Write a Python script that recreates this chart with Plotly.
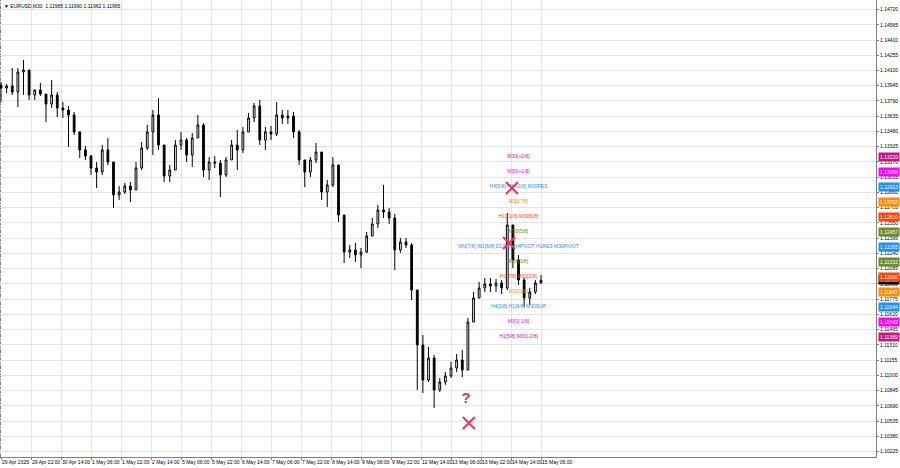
import plotly.graph_objects as go

# ---------------- data ----------------
SYMBOL = "EURUSD,M30"
QUOTE = "1.11965 1.11990 1.11962 1.11965"

first_open = 1.13952
highs = [1.13983, 1.13963, 1.14125, 1.14125, 1.14207, 1.14105, 1.13902, 1.13973, 1.13861, 1.14003,
         1.13881, 1.13780, 1.13739, 1.13678, 1.13475, 1.13332, 1.13241, 1.13169, 1.13342, 1.13414,
         1.13169, 1.12925, 1.12956, 1.12966, 1.13169, 1.13373, 1.13546, 1.13698, 1.13820, 1.13342,
         1.13139, 1.13393, 1.13475, 1.13414, 1.13464, 1.13647, 1.13566, 1.13220, 1.13230, 1.13190,
         1.13220, 1.13393, 1.13495, 1.13525, 1.13668, 1.13770, 1.13800, 1.13525, 1.13536, 1.13780,
         1.13698, 1.13698, 1.13678, 1.13495, 1.13190, 1.13220, 1.13363, 1.13271, 1.12986, 1.13220,
         1.13139, 1.12630, 1.12325, 1.12346, 1.12295, 1.12458, 1.12600, 1.12732, 1.12936, 1.12702,
         1.12641, 1.12397, 1.12397, 1.12346, 1.11868, 1.11410, 1.11288, 1.11207, 1.10973, 1.11034,
         1.11136, 1.11217, 1.11258, 1.11583, 1.11847, 1.11949, 1.11990, 1.11990, 1.11980, 1.11969,
         1.12651, 1.12529, 1.12224, 1.11990, 1.11888, 1.11969, 1.12020]
lows = [1.13780, 1.13871, 1.13851, 1.13729, 1.13851, 1.13800, 1.13800, 1.13841, 1.13576, 1.13719,
        1.13627, 1.13617, 1.13322, 1.13444, 1.13210, 1.13190, 1.13037, 1.12905, 1.13037, 1.13139,
        1.12702, 1.12783, 1.12844, 1.12763, 1.12885, 1.13088, 1.13292, 1.13241, 1.13292, 1.12966,
        1.12966, 1.13088, 1.13292, 1.13169, 1.13119, 1.13414, 1.13017, 1.12986, 1.13108, 1.12814,
        1.13017, 1.13190, 1.13088, 1.13261, 1.13475, 1.13576, 1.13342, 1.13292, 1.13393, 1.13434,
        1.13556, 1.13556, 1.13414, 1.13139, 1.12915, 1.13017, 1.13159, 1.12783, 1.12712, 1.12915,
        1.12559, 1.12142, 1.12193, 1.12152, 1.12091, 1.12244, 1.12417, 1.12498, 1.12600, 1.12539,
        1.12071, 1.12244, 1.12295, 1.11766, 1.10851, 1.10820, 1.10932, 1.10668, 1.10830, 1.10902,
        1.10973, 1.11034, 1.10983, 1.11054, 1.11542, 1.11786, 1.11847, 1.11847, 1.11847, 1.11827,
        1.11868, 1.12091, 1.11919, 1.11695, 1.11715, 1.11827, 1.11929]
closes = [1.13922, 1.13942, 1.13881, 1.14085, 1.14105, 1.13851, 1.13902, 1.13861, 1.13759, 1.13851,
          1.13719, 1.13698, 1.13647, 1.13475, 1.13292, 1.13230, 1.13108, 1.13068, 1.13292, 1.13169,
          1.12834, 1.12864, 1.12925, 1.12885, 1.13108, 1.13312, 1.13475, 1.13647, 1.13342, 1.13027,
          1.13088, 1.13342, 1.13393, 1.13241, 1.13414, 1.13546, 1.13088, 1.13169, 1.13159, 1.13037,
          1.13190, 1.13342, 1.13292, 1.13475, 1.13617, 1.13739, 1.13393, 1.13475, 1.13454, 1.13647,
          1.13617, 1.13637, 1.13475, 1.13190, 1.13068, 1.13190, 1.13271, 1.12864, 1.12936, 1.13139,
          1.12630, 1.12254, 1.12275, 1.12224, 1.12254, 1.12417, 1.12539, 1.12681, 1.12661, 1.12600,
          1.12275, 1.12356, 1.12325, 1.11868, 1.11308, 1.10952, 1.11176, 1.10851, 1.10932, 1.10993,
          1.11074, 1.11156, 1.11054, 1.11542, 1.11786, 1.11888, 1.11929, 1.11908, 1.11939, 1.11888,
          1.12529, 1.12173, 1.11969, 1.11786, 1.11847, 1.11939, 1.11965]
BARS_PER_CANDLE = 6          # M30 bars grouped per drawn candle
current_price = 1.11965

x_tick_labels = ["29 Apr 2025", "29 Apr 22:00", "30 Apr 14:00", "1 May 06:00", "1 May 22:00",
                 "2 May 14:00", "5 May 06:00", "5 May 22:00", "6 May 14:00", "7 May 06:00",
                 "7 May 22:00", "8 May 14:00", "9 May 06:00", "9 May 22:00", "12 May 14:00",
                 "13 May 06:00", "13 May 22:00", "14 May 14:00", "15 May 06:00"]
BARS_PER_X_LABEL = 32

y_tick_labels = ["1.14720", "1.14565", "1.14410", "1.14255", "1.14100", "1.13945", "1.13790",
                 "1.13635", "1.13480", "1.13325", "1.13170", "1.13015", "1.12860", "1.12705",
                 "1.12550", "1.12395", "1.12240", "1.12085", "1.11930", "1.11775", "1.11620",
                 "1.11465", "1.11310", "1.11155", "1.11000", "1.10845", "1.10690", "1.10535",
                 "1.10380", "1.10225"]

level_prices = [1.13220, 1.13068, 1.12913, 1.12762, 1.12610, 1.12457, 1.12305,
                1.12152, 1.12000, 1.11847, 1.11694, 1.11542, 1.11389]
level_texts = ["M30[+2/8]", "M30[+1/8]", "H4[5/8] H1[+2/8] M30RES", "M30[7/8]",
               "H1[+1/8] M30[6/8]", "M30[5/8]",
               "MN[7/8] W1[6/8] D1[3/8] H4PIVOT H1RES M30PIVOT",
               "M30[3/8]", "H1[7/8] M30[2/8]", "M30[1/8]", "H4[3/8] H1[6/8] M30SUP",
               "M30[-1/8]", "H1[5/8] M30[-2/8]"]
level_colors = ["#C71585", "#FF00FF", "#1E90FF", "#FF8C00", "#FF4500", "#6B8E23", "#1E90FF",
                "#6B8E23", "#FF4500", "#FF8C00", "#1E90FF", "#FF00FF", "#C71585"]
level_label_bar = 552

signal_x_bars = [545, 542, 499]
signal_x_prices = [1.12905, 1.12346, 1.10515]
question_bar = [496]
question_price = [1.10759]

# ---------------- figure ----------------
bars = [i * BARS_PER_CANDLE for i in range(len(closes))]
opens = [first_open] + closes[:-1]
hi = [max(h, o, c) for h, o, c in zip(highs, opens, closes)]
lo = [min(l, o, c) for l, o, c in zip(lows, opens, closes)]

FONT = "Liberation Sans"
SIG = "#F0325A"

fig = go.Figure()

for p, col in zip(level_prices, level_colors):
    pivot = abs(p - 1.12305) < 1e-6
    fig.add_hline(y=p, line=dict(color=col, width=1.6 if pivot else 1,
                                 dash="solid" if pivot else "3px,2px,1px,2px"),
                  opacity=0.75 if pivot else 0.6, layer="below")

fig.add_trace(go.Candlestick(
    x=bars, open=opens, high=hi, low=lo, close=closes,
    increasing=dict(line=dict(color="#000000", width=1), fillcolor="#FFFFFF"),
    decreasing=dict(line=dict(color="#000000", width=1), fillcolor="#000000"),
    whiskerwidth=0, showlegend=False, hoverinfo="skip"))

fig.add_trace(go.Scatter(
    x=[level_label_bar] * len(level_prices), y=level_prices, mode="text",
    text=level_texts, textposition="middle center",
    textfont=dict(family=FONT, size=5, color=level_colors),
    showlegend=False, hoverinfo="skip"))

fig.add_trace(go.Scatter(
    x=signal_x_bars, y=signal_x_prices, mode="markers",
    marker=dict(symbol="x-thin", size=12, line=dict(color=SIG, width=2)),
    showlegend=False, hoverinfo="skip"))

fig.add_trace(go.Scatter(
    x=question_bar, y=question_price, mode="text", text=["<b>?</b>"],
    textfont=dict(family=FONT, size=15, color=SIG),
    showlegend=False, hoverinfo="skip"))

annotations = [dict(xref="paper", x=1, xanchor="left", xshift=2, yref="y", y=current_price,
                    text=f"{current_price:.5f}", showarrow=False, bgcolor="#000000",
                    font=dict(family=FONT, size=5, color="white"), borderpad=1)]
for p, col in zip(level_prices, level_colors):
    annotations.append(dict(xref="paper", x=1, xanchor="left", xshift=2, yref="y", y=p,
                            text=f"{p:.5f}", showarrow=False, bgcolor=col,
                            font=dict(family=FONT, size=5, color="white"), borderpad=1))
annotations.append(dict(xref="paper", yref="paper", x=0, y=1, xanchor="left", yanchor="top",
                        xshift=2, yshift=-1, showarrow=False,
                        text=f"▼ {SYMBOL}  {QUOTE}",
                        font=dict(family=FONT, size=5, color="#000000")))

x_tick_vals = [i * BARS_PER_X_LABEL for i in range(len(x_tick_labels))]
y_tick_vals = [float(t) for t in y_tick_labels]

fig.update_layout(
    width=900, height=468,
    margin=dict(l=0, r=24, t=0, b=11),
    paper_bgcolor="white", plot_bgcolor="white",
    font=dict(family=FONT, size=5, color="#000000"),
    annotations=annotations,
    boxgap=0.55,
    xaxis=dict(range=[-1.07, 933.3], rangeslider=dict(visible=False),
               tickmode="array", tickvals=x_tick_vals, ticktext=x_tick_labels,
               tickangle=0, ticklabelposition="outside right", ticks="outside", ticklen=2,
               tickcolor="#808080", tickfont=dict(family=FONT, size=5),
               showgrid=True, gridcolor="#E4E4E4", gridwidth=1,
               showline=True, linecolor="#808080", linewidth=1, zeroline=False),
    yaxis=dict(range=[1.10169, 1.14817], side="right",
               tickmode="array", tickvals=y_tick_vals, ticktext=y_tick_labels,
               ticks="outside", ticklen=2, tickcolor="#808080",
               tickfont=dict(family=FONT, size=5),
               showgrid=True, gridcolor="#E4E4E4", gridwidth=1,
               showline=True, linecolor="#808080", linewidth=1, zeroline=False),
    shapes=[dict(type="line", xref="paper", yref="paper", x0=0, x1=0, y0=0, y1=1,
                 line=dict(color="#808080", width=1))],
)

fig.write_html("out.html", config={"displayModeBar": False},
               post_script="document.body.style.margin='0';document.body.style.overflow='hidden';")
